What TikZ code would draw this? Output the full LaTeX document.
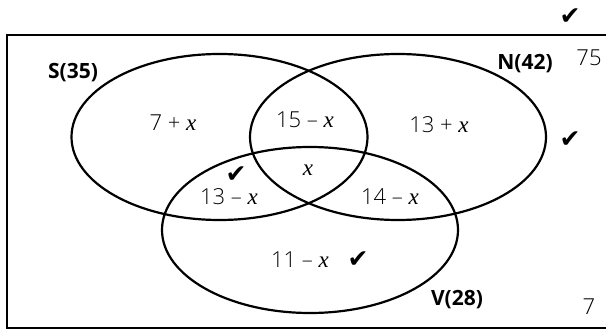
\documentclass[tikz,border=0pt]{standalone}
\usepackage{fontspec}
\setmainfont{Open Sans}
\newfontfamily\lightfont{Open Sans Light}
\newfontfamily\symfont{DejaVu Sans}
\newfontfamily\xfont{Liberation Serif}
\newcommand{\vx}{{\xfont\itshape\fontsize{23}{25}\selectfont x}}
\begin{document}
\begin{tikzpicture}[x=1pt,y=-1pt,
  setline/.style={line width=2.2pt},
  lbl/.style={font=\fontsize{21}{24}\selectfont\bfseries},
  val/.style={font=\fontsize{22}{25}\selectfont\lightfont},
  tick/.style={font=\fontsize{25}{28}\selectfont\symfont}]
\useasboundingbox (0,0) rectangle (606,331);
\begin{scope}
\clip (0,0) rectangle (606,331);
\draw[setline] (7,35) rectangle (640,328);
\end{scope}
\draw[setline] (219.5,137) ellipse [x radius=148, y radius=83];
\draw[setline] (398,137) ellipse [x radius=148, y radius=83];
\draw[setline] (310,230) ellipse [x radius=148, y radius=83];
\node[lbl] (sl) at (73,73) {S(35)};
\node[lbl] (nl) at (525,64) {N(42)};
\node[lbl] (vl) at (457,300) {V(28)};
\node[val] (u) at (589,58) {75};
\node[val] (o) at (589,307) {7};
\node[val] (a) at (173,123) {7 + \vx};
\node[val] (b) at (305,120) {15 – \vx};
\node[val] (c) at (439,125) {13 + \vx};
\node[val] (d) at (308,170) {\vx};
\node[val] (e) at (229,197) {13 – \vx};
\node[val] (f) at (390,197) {14 – \vx};
\node[val] (g) at (300,260) {11 – \vx};
\node[tick] (t1) at (570,17) {✔};
\node[tick] (t2) at (570,140) {✔};
\node[tick] (t3) at (236,175) {✔};
\node[tick] (t4) at (358,260) {✔};
\end{tikzpicture}
\end{document}
